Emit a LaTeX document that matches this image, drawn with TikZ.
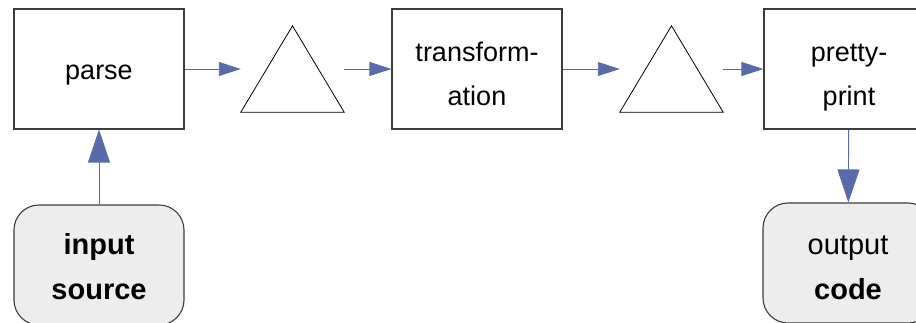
\documentclass[tikz,border=0pt]{standalone}
\usepackage{fontspec}
\setmainfont{Liberation Sans}
\usetikzlibrary{arrows.meta}
\definecolor{flowblue}{RGB}{88,106,170}
\definecolor{boxline}{RGB}{60,60,60}
\definecolor{ioFill}{RGB}{237,237,237}
\begin{document}
\begin{tikzpicture}[x=1pt,y=-1pt,
  stage/.style={draw=boxline, line width=1.1pt, minimum width=170pt,
    minimum height=120pt, inner sep=0pt, align=center,
    font=\fontsize{27}{44}\selectfont},
  terminal/.style={stage, rounded corners=25pt, fill=ioFill,
    font=\fontsize{29}{44.5}\selectfont},
  oneline/.style={text height=25pt, text depth=5pt},
  twoline/.style={text height=#1, text depth=0pt},
  filterslot/.style={minimum width=103pt, minimum height=86pt, inner sep=0pt},
  filtershape/.style={draw=black, line width=0.8pt, line join=miter},
  flow/.style={draw=flowblue, color=flowblue, line width=0.9pt,
    -{Triangle[length=22pt,width=14pt]}},
  bigflow/.style={flow, -{Triangle[length=33pt,width=22pt]}}
]
\useasboundingbox (0,0) rectangle (916,322);

% processing stages
\node[stage, oneline] (parse) at (99,69) {parse};
\node[stage, twoline=73pt] (transform) at (477,69) {transform-\\ation};
\node[stage, twoline=72pt] (pretty) at (849,69) {pretty-\\print};

% intermediate representations
\node[filterslot] (t1) at (292.5,69) {};
\node[filterslot] (t2) at (671.5,69) {};
\draw[filtershape] (t1.south west) -- (t1.south east) -- (t1.north) -- cycle;
\draw[filtershape] (t2.south west) -- (t2.south east) -- (t2.north) -- cycle;

% input and output
\node[terminal, twoline=68pt] (input) at (99,265) {\bfseries input\\\bfseries source};
\node[terminal, twoline=72pt] (output) at (848,263) {output\\\bfseries code};

% data flow
\draw[flow] (parse) -- (t1);
\draw[flow] (t1) -- (transform);
\draw[flow] (transform) -- (t2);
\draw[flow] (t2) -- (pretty);
\draw[bigflow] (input) -- (parse);
\draw[bigflow] (pretty) -- (output);
\end{tikzpicture}
\end{document}
